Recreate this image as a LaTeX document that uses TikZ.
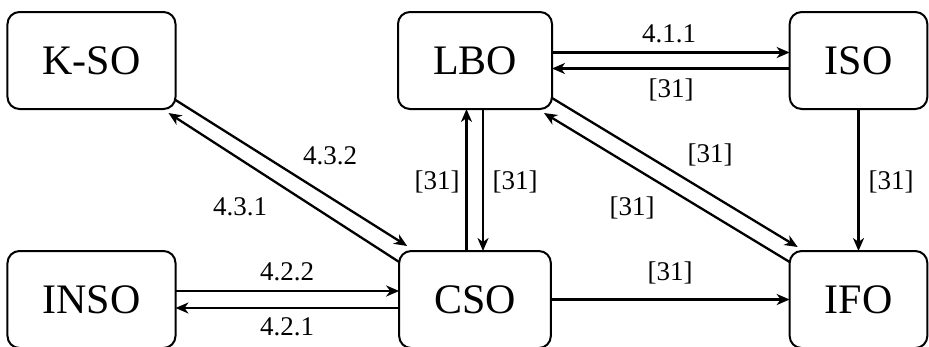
\documentclass[tikz,border=0pt]{standalone}
\usepackage{fontspec}
\setmainfont{Liberation Serif}
\usetikzlibrary{arrows.meta}
\begin{document}
\begin{tikzpicture}[x=1pt,y=-1pt,
  box/.style={draw, line width=2pt, rounded corners=12pt, minimum height=97pt,
    inner xsep=35pt, outer sep=0pt, font=\fontsize{42}{48}\selectfont},
  flow/.style={line width=2.3pt, -{Stealth[length=13pt,width=11pt,inset=4pt]}},
  lbl/.style={font=\fontsize{27}{30}\selectfont, anchor=base, inner sep=0pt}]
\useasboundingbox (0,0) rectangle (929,346);

% organisations
\node[box] (kso)  at (91.5,60.5)  {K-SO};
\node[box] (lbo)  at (475,60.5)   {LBO};
\node[box] (iso)  at (858.5,60.5) {ISO};
\node[box] (inso) at (91.5,299.5) {INSO};
\node[box] (cso)  at (475,299.5)  {CSO};
\node[box] (ifo)  at (858.5,299.5) {IFO};

% LBO <-> ISO
\draw[flow] ([yshift=8pt]lbo.east) -- ([yshift=8pt]iso.west);
\draw[flow] ([yshift=-8pt]iso.west) -- ([yshift=-8pt]lbo.east);
% INSO <-> CSO
\draw[flow] ([yshift=8.5pt]inso.east) -- ([yshift=8.5pt]cso.west);
\draw[flow] ([yshift=-8.5pt]cso.west) -- ([yshift=-8.5pt]inso.east);
% CSO -> IFO
\draw[flow] (cso.east) -- (ifo.west);
% ISO -> IFO
\draw[flow] (iso.south) -- (ifo.north);
% LBO <-> CSO
\draw[flow] ([xshift=-8.5pt]cso.north) -- ([xshift=-8.5pt]lbo.south);
\draw[flow] ([xshift=8pt]lbo.south) -- ([xshift=8pt]cso.north);
% K-SO <-> CSO
\draw[flow] ([yshift=9pt]kso.south east) -- ([xshift=8pt,yshift=5pt]cso.north west);
\draw[flow] ([yshift=-11pt]cso.north west) -- ([xshift=-7pt,yshift=-4pt]kso.south east);
% LBO <-> IFO
\draw[flow] ([yshift=11pt]lbo.south east) -- ([xshift=8pt,yshift=4pt]ifo.north west);
\draw[flow] ([yshift=-11pt]ifo.north west) -- ([xshift=-8pt,yshift=-4pt]lbo.south east);

% labels
\node[lbl] (l411) at (669,42)  {4.1.1};
\node[lbl] (l31a) at (671,97)  {[31]};
\node[lbl] (l432) at (330,164) {4.3.2};
\node[lbl] (l431) at (240,215) {4.3.1};
\node[lbl] (l31b) at (710,162) {[31]};
\node[lbl] (l31c) at (632,215) {[31]};
\node[lbl] (l31d) at (437,189) {[31]};
\node[lbl] (l31e) at (515,189) {[31]};
\node[lbl] (l31f) at (891,189) {[31]};
\node[lbl] (l422) at (287,280) {4.2.2};
\node[lbl] (l421) at (287,335) {4.2.1};
\node[lbl] (l31g) at (670,280) {[31]};
\end{tikzpicture}
\end{document}
